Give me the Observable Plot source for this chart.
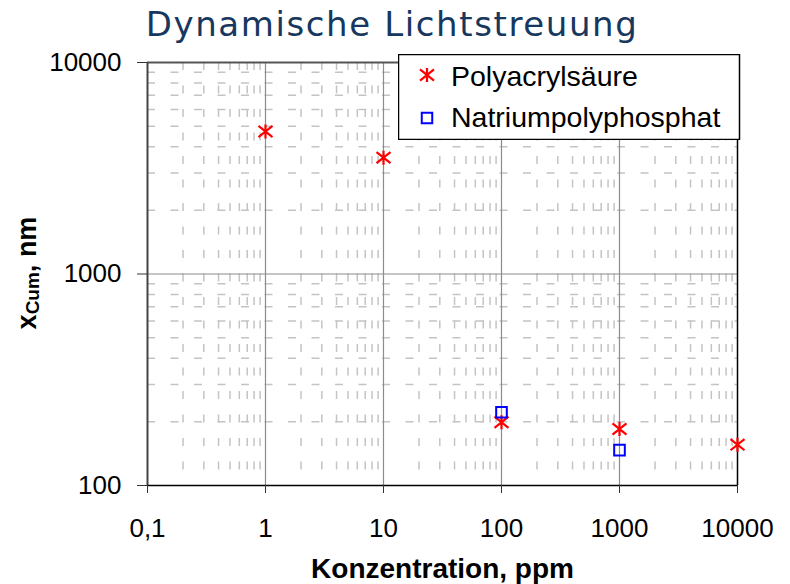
<!DOCTYPE html>
<html>
<head>
<meta charset="utf-8">
<script src="https://cdn.jsdelivr.net/npm/d3@7"></script>
<script src="https://cdn.jsdelivr.net/npm/@observablehq/plot@0.6"></script>
<style>
  html, body { margin: 0; padding: 0; background: #fff; }
  #wrap { position: relative; width: 790px; height: 584px; overflow: hidden; font-family: "Liberation Sans", Arial, sans-serif; }
  #title { position: absolute; left: -3px; top: 0; width: 790px; height: 45px; text-align: center;
           font-family: "DejaVu Sans", Verdana, sans-serif; font-size: 34px; letter-spacing: 1.6px;
           color: #17375e; line-height: 45px; padding-top: 2px; box-sizing: border-box; white-space: nowrap; }
  #chart { position: absolute; left: 0; top: 45px; }
  #legend { position: absolute; left: 398px; top: 54px; }
</style>
</head>
<body>
<div id="wrap">
  <div id="title">Dynamische Lichtstreuung</div>
  <div id="chart"></div>
  <div id="legend"></div>
</div>
<script>
// Data
const seriesNames = ["Polyacrylsäure", "Natriumpolyphosphat"];
const polyConc = [1, 10, 100, 1000, 10000];
const polySize = [4720, 3550, 199, 185, 156];
const natConc = [100, 1000];
const natSize = [222, 147];
const xTicks = [0.1, 1, 10, 100, 1000, 10000];
const xTickLabels = ["0,1", "1", "10", "100", "1000", "10000"];
const yTicks = [100, 1000, 10000];
const yTickLabels = ["100", "1000", "10000"];

const poly = polyConc.map((c, i) => ({c, s: polySize[i]}));
const nat = natConc.map((c, i) => ({c, s: natSize[i]}));

const minorX = [];
for (let i = 0; i < xTicks.length - 1; i++) for (let k = 2; k <= 9; k++) minorX.push(xTicks[i] * k);
const minorY = [];
for (let i = 0; i < yTicks.length - 1; i++) for (let k = 2; k <= 9; k++) minorY.push(yTicks[i] * k);

const starSymbol = {
  draw(ctx, size) {
    const r = Math.sqrt(size / Math.PI);
    ctx.moveTo(-r, -r * 0.8); ctx.lineTo(r, r * 0.8);
    ctx.moveTo(-r, r * 0.8); ctx.lineTo(r, -r * 0.8);
    ctx.moveTo(0, -r); ctx.lineTo(0, r);
  }
};

const font = '"Liberation Sans", Arial, sans-serif';

const plot = Plot.plot({
  width: 790,
  height: 539,
  marginLeft: 147,
  marginRight: 53,
  marginTop: 17,
  marginBottom: 99,
  style: {fontFamily: font, background: "transparent", overflow: "visible"},
  x: {type: "log", domain: [0.1, 10000]},
  y: {type: "log", domain: [100, 10000]},
  marks: [
    Plot.ruleX(minorX, {stroke: "#c4c4c4", strokeWidth: 1.5, strokeDasharray: "8,15.5"}),
    Plot.ruleY(minorY, {stroke: "#c4c4c4", strokeWidth: 1.5, strokeDasharray: "8,15.5"}),
    Plot.ruleX(xTicks.slice(1, -1), {stroke: "#8c8c8c", strokeWidth: 1.2}),
    Plot.ruleY(yTicks.slice(1, -1), {stroke: "#8c8c8c", strokeWidth: 1.2}),
    Plot.ruleY([10000], {stroke: "#555", strokeWidth: 2}),
    Plot.ruleX([0.1], {stroke: "#444", strokeWidth: 2}),
    Plot.ruleX([10000], {stroke: "#000", strokeWidth: 1.5}),
    Plot.ruleY([100], {stroke: "#000", strokeWidth: 1.5}),
    Plot.axisX({ticks: xTicks, tickFormat: d => xTickLabels[xTicks.indexOf(d)], tickSize: 8, tickPadding: 25,
                fontSize: 26, stroke: "#333", label: null, color: "#000"}),
    Plot.axisY({ticks: yTicks, tickFormat: d => yTickLabels[yTicks.indexOf(d)], tickSize: 10, tickPadding: 16,
                fontSize: 26, stroke: "#333", label: null, color: "#000"}),
    Plot.dot(poly, {x: "c", y: "s", symbol: starSymbol, r: 7, stroke: "#ff0000", strokeWidth: 2.2}),
    Plot.dot(nat, {x: "c", y: "s", symbol: "square", r: 6, stroke: "#0000ff", strokeWidth: 2, fill: "none"}),
    Plot.text(["Konzentration, ppm"], {frameAnchor: "bottom", lineAnchor: "middle", dy: 84, fontSize: 28,
              fontWeight: "bold", fill: "#000", letterSpacing: "1.2px"})
  ]
});
document.getElementById("chart").appendChild(plot);

// y-axis title with subscript
const svg = d3.select(plot);
const yl = svg.append("text")
  .attr("transform", "translate(29,228) rotate(-90)")
  .attr("text-anchor", "middle")
  .attr("dominant-baseline", "middle")
  .attr("font-family", font)
  .attr("font-weight", "bold")
  .attr("font-size", 27)
  .attr("fill", "#000");
yl.append("tspan").text("x");
yl.append("tspan").attr("font-size", 19).attr("dy", 5).text("Cum");
yl.append("tspan").attr("dy", -5).text(", nm");

// legend
const lg = d3.select("#legend").append("svg").attr("width", 343).attr("height", 86);
lg.append("rect").attr("x", 0.5).attr("y", 0.5).attr("width", 341).attr("height", 85)
  .attr("fill", "#fff").attr("stroke", "#000").attr("stroke-width", 1.5);
const sym = d3.symbol();
lg.append("path").attr("transform", "translate(29,21)")
  .attr("d", sym.type(starSymbol).size(Math.PI * 49)())
  .attr("stroke", "#ff0000").attr("stroke-width", 2.2).attr("fill", "none");
lg.append("path").attr("transform", "translate(29,64)")
  .attr("d", sym.type(d3.symbolSquare).size(110)())
  .attr("stroke", "#0000ff").attr("stroke-width", 2).attr("fill", "none");
lg.append("text").attr("x", 53).attr("y", 32).attr("font-family", font).attr("font-size", 28.5).text(seriesNames[0]);
lg.append("text").attr("x", 53).attr("y", 73).attr("font-family", font).attr("font-size", 28.5).text(seriesNames[1]);
</script>
</body>
</html>
